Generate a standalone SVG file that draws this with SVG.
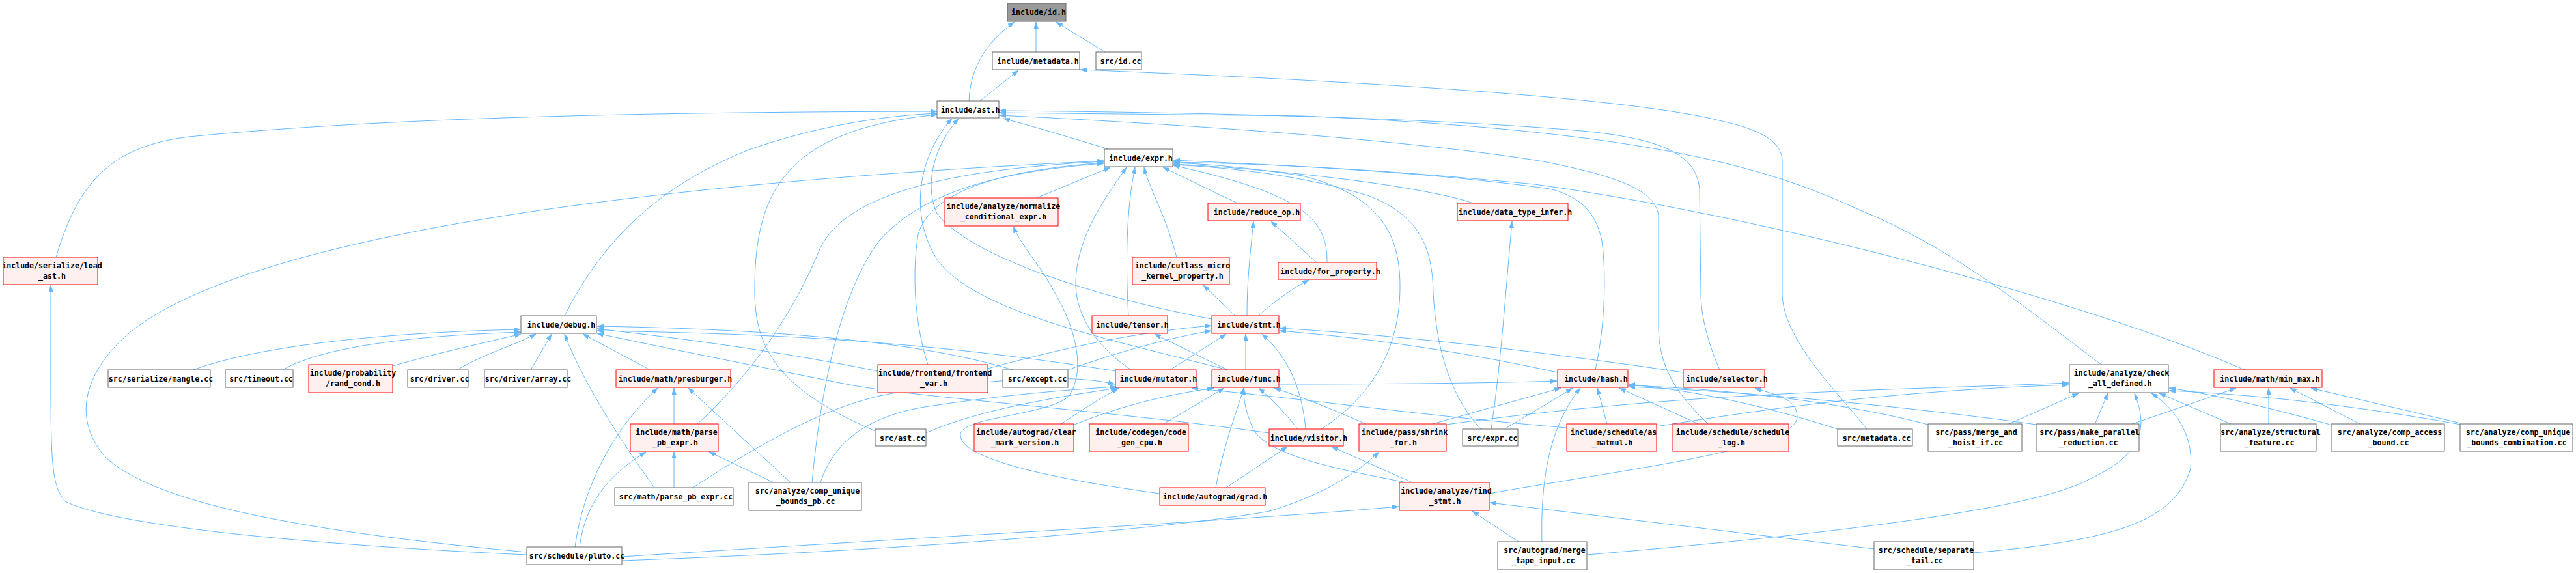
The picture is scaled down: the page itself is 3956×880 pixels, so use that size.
<svg xmlns="http://www.w3.org/2000/svg" width="3956" height="880" viewBox="0 0 3956 880">
<style>
.n rect{fill:#ffffff;stroke:#666666;stroke-width:1}
.r rect{fill:#fff0f0;stroke:#ff0000;stroke-width:1}
.g rect{fill:#999999;stroke:#666666;stroke-width:1}
text{font-family:"DejaVu Sans Mono","Liberation Mono",monospace;font-size:11.6px;font-weight:bold;fill:#000;text-anchor:middle}
#edges path{fill:none;stroke:#63b8ff;stroke-width:1;marker-end:url(#ah)}
</style>
<defs>
<marker id="ah" viewBox="0 0 10 7" refX="10" refY="3.5" markerWidth="10" markerHeight="7" orient="auto" markerUnits="userSpaceOnUse"><path d="M0,0 L10,3.5 L0,7 z" fill="#63b8ff" stroke="#63b8ff" stroke-width="0.5"/></marker>
</defs>
<rect width="3956" height="880" fill="#ffffff"/>
<g id="edges">
<path d="M1488 155 C1490 100 1520 60 1558 34"/>
<path d="M1591 80 L1591 34"/>
<path d="M1697 80 L1622 34"/>
<path d="M1505 155 L1564 108"/>
<path d="M2867 659 C2820 600 2737 520 2737 450 L2737 245 C2735 220 2710 200 2640 185 C2500 150 2100 125 1659 107"/>
<path d="M1702 229 C1640 210 1590 195 1541 182"/>
<path d="M867 485 C920 380 1000 290 1150 230 C1250 195 1350 178 1439 174"/>
<path d="M86 395 C120 280 170 225 290 210 C600 180 1000 172 1439 171"/>
<path d="M1344 662 C1200 600 1160 540 1159 450 C1158 300 1200 200 1439 176"/>
<path d="M1885 568 C1700 520 1500 480 1440 400 C1395 330 1410 240 1462 182"/>
<path d="M1861 490 C1700 460 1500 400 1440 330 C1420 290 1430 230 1472 182"/>
<path d="M2641 568 C2620 520 2612 480 2612 450 L2610 290 C2605 240 2560 215 2440 202 C2200 180 1800 172 1535 170"/>
<path d="M3227 560 C3120 480 3000 380 2850 320 C2700 250 2500 200 2000 178 L1535 173"/>
<path d="M2623 651 C2570 600 2547 560 2547 500 L2547 330 C2540 290 2480 270 2370 248 C2200 220 1900 195 1535 177"/>
<path d="M809 848 C450 815 230 770 160 700 C110 640 130 570 200 510 C350 390 800 290 1695 247"/>
<path d="M809 852 C500 838 180 810 100 770 C75 740 78 700 78 438"/>
<path d="M1592 304 L1705 257"/>
<path d="M1900 312 L1786 257"/>
<path d="M1807 395 C1790 330 1765 290 1757 257"/>
<path d="M1733 485 C1728 400 1730 320 1743 257"/>
<path d="M1737 568 C1680 530 1650 480 1652 430 C1655 360 1700 300 1730 257"/>
<path d="M1425 560 C1405 500 1400 420 1410 360 C1430 290 1550 260 1695 250"/>
<path d="M1070 652 C1150 580 1220 480 1260 380 C1300 300 1450 260 1695 248"/>
<path d="M1247 741 C1260 600 1290 450 1350 370 C1420 290 1550 262 1695 251"/>
<path d="M2450 568 C2465 500 2467 420 2460 370 C2450 320 2420 300 2380 290 C2200 265 2000 255 1802 246"/>
<path d="M3447 568 C3200 460 2700 330 2357 283 C2100 258 1950 252 1802 249"/>
<path d="M2262 312 C2200 290 2000 262 1802 252"/>
<path d="M2038 403 C2038 340 2010 300 1802 254"/>
<path d="M2029 659 C2120 600 2150 520 2150 440 C2150 360 2120 300 2000 270 C1900 255 1850 252 1802 250"/>
<path d="M2274 659 C2220 600 2205 520 2201 450 C2200 380 2180 330 2100 300 C2000 270 1900 258 1802 253"/>
<path d="M2290 659 C2305 560 2312 450 2322 340"/>
<path d="M2312 658 C2350 635 2385 615 2415 596"/>
<path d="M1915 485 C1915 430 1920 390 1925 340"/>
<path d="M1897 485 L1848 438"/>
<path d="M1933 485 C1960 460 1990 440 2010 430"/>
<path d="M2022 403 L1952 340"/>
<path d="M297 568 C400 530 600 510 799 506"/>
<path d="M434 568 C500 530 650 515 800 510"/>
<path d="M603 562 C680 540 750 525 800 513"/>
<path d="M702 568 C740 545 790 530 823 513"/>
<path d="M815 568 L847 513"/>
<path d="M998 568 L895 513"/>
<path d="M1005 749 C970 700 900 600 867 513"/>
<path d="M1348 570 C1200 540 1050 520 917 505"/>
<path d="M1555 568 C1400 520 1150 505 917 501"/>
<path d="M1714 570 C1400 520 1150 512 917 508"/>
<path d="M1949 665 C1700 630 1400 610 1300 590 C1150 560 1000 530 917 512"/>
<path d="M883 840 C895 750 940 660 1010 596"/>
<path d="M1035 651 L1035 596"/>
<path d="M1214 741 L1057 596"/>
<path d="M890 840 C900 760 950 720 992 694"/>
<path d="M1035 749 L1035 694"/>
<path d="M1188 741 L1089 694"/>
<path d="M1064 749 C1200 660 1300 610 1400 600 C1550 580 1650 575 1712 590"/>
<path d="M1260 741 C1280 680 1330 640 1420 625 C1550 605 1650 598 1714 594"/>
<path d="M1422 665 C1500 630 1620 610 1716 596"/>
<path d="M1630 651 C1660 630 1690 612 1718 596"/>
<path d="M1650 652 C1730 620 1800 605 1864 596"/>
<path d="M1787 651 L1880 596"/>
<path d="M1867 749 C1880 680 1900 630 1910 596"/>
<path d="M1883 749 L1977 686"/>
<path d="M1781 758 C1650 740 1480 710 1475 670 C1470 640 1600 640 1640 610 C1670 570 1650 500 1620 450 C1600 410 1570 380 1556 348"/>
<path d="M2005 659 C2000 600 1980 550 1938 513"/>
<path d="M1993 659 C1970 630 1950 610 1933 596"/>
<path d="M1797 568 L1883 513"/>
<path d="M1913 568 L1913 513"/>
<path d="M1885 568 L1773 513"/>
<path d="M1517 566 C1650 530 1750 510 1860 500"/>
<path d="M1640 568 C1720 540 1790 520 1860 508"/>
<path d="M2392 572 C2200 530 2050 515 1965 508"/>
<path d="M2585 572 C2300 530 2100 512 1965 504"/>
<path d="M1964 590 C2150 590 2300 588 2391 585"/>
<path d="M2097 651 C2050 630 2000 610 1957 596"/>
<path d="M2160 741 C2050 720 1950 700 1925 660 C1912 630 1910 615 1910 596"/>
<path d="M2169 741 L2045 686"/>
<path d="M2287 758 C2500 720 2760 690 2760 640 C2760 610 2720 605 2695 596"/>
<path d="M955 855 C1500 820 1900 800 2148 778"/>
<path d="M955 861 C1400 845 1800 812 1950 785 C2030 760 2080 730 2118 694"/>
<path d="M2332 832 L2261 785"/>
<path d="M2878 843 L2288 772"/>
<path d="M2368 832 C2366 750 2375 660 2427 596"/>
<path d="M2437 852 C2700 830 3100 790 3200 740 C3290 700 3300 660 3278 604"/>
<path d="M3031 849 C3250 830 3340 800 3364 720 C3370 660 3330 620 3304 604"/>
<path d="M2200 651 L2397 596"/>
<path d="M2221 652 C2600 600 2900 600 3177 588"/>
<path d="M2468 651 L2453 596"/>
<path d="M2544 655 C2700 630 2900 600 3177 591"/>
<path d="M2406 657 C2200 640 2000 612 1830 596"/>
<path d="M2608 651 L2487 596"/>
<path d="M2822 659 C2700 620 2600 600 2501 590"/>
<path d="M2961 652 C2800 610 2600 595 2501 592"/>
<path d="M3127 652 C2900 620 2650 600 2501 594"/>
<path d="M3083 652 L3192 604"/>
<path d="M3217 652 L3237 604"/>
<path d="M3428 652 L3316 604"/>
<path d="M3578 652 C3500 630 3400 605 3331 596"/>
<path d="M3779 652 C3600 620 3450 605 3331 600"/>
<path d="M3272 652 L3434 596"/>
<path d="M3484 651 L3484 596"/>
<path d="M3626 652 L3517 596"/>
<path d="M3779 650 L3549 596"/>
</g>
<g id="n_id" class="g"><rect x="1547" y="5" width="90" height="28"/><text x="1595" y="23">include/id.h</text></g>
<g id="n_metadata" class="n"><rect x="1524" y="80" width="134" height="27"/><text x="1594" y="98">include/metadata.h</text></g>
<g id="n_idcc" class="n"><rect x="1683" y="80" width="70" height="27"/><text x="1721" y="98">src/id.cc</text></g>
<g id="n_ast" class="n"><rect x="1439" y="155" width="95" height="26"/><text x="1490" y="173">include/ast.h</text></g>
<g id="n_expr" class="n"><rect x="1696" y="229" width="105" height="27"/><text x="1752" y="247">include/expr.h</text></g>
<g id="n_loadast" class="r"><rect x="5" y="395" width="145" height="42"/><text x="80" y="412">include/serialize/load</text><text x="80" y="428">_ast.h</text></g>
<g id="n_normalize" class="r"><rect x="1451" y="304" width="174" height="43"/><text x="1541" y="321">include/analyze/normalize</text><text x="1541" y="337">_conditional_expr.h</text></g>
<g id="n_reduce" class="r"><rect x="1855" y="312" width="142" height="27"/><text x="1930" y="330">include/reduce_op.h</text></g>
<g id="n_dtinfer" class="r"><rect x="2238" y="312" width="170" height="27"/><text x="2327" y="330">include/data_type_infer.h</text></g>
<g id="n_cutlass" class="r"><rect x="1739" y="395" width="149" height="42"/><text x="1816" y="412">include/cutlass_micro</text><text x="1816" y="428">_kernel_property.h</text></g>
<g id="n_forprop" class="r"><rect x="1963" y="403" width="151" height="26"/><text x="2043" y="421">include/for_property.h</text></g>
<g id="n_debug" class="n"><rect x="800" y="485" width="116" height="27"/><text x="862" y="503">include/debug.h</text></g>
<g id="n_tensor" class="r"><rect x="1677" y="485" width="116" height="27"/><text x="1739" y="503">include/tensor.h</text></g>
<g id="n_stmt" class="r"><rect x="1861" y="485" width="103" height="27"/><text x="1918" y="503">include/stmt.h</text></g>
<g id="n_mangle" class="n"><rect x="166" y="568" width="157" height="27"/><text x="247" y="586">src/serialize/mangle.cc</text></g>
<g id="n_timeout" class="n"><rect x="346" y="568" width="104" height="27"/><text x="401" y="586">src/timeout.cc</text></g>
<g id="n_randcond" class="r"><rect x="474" y="560" width="129" height="43"/><text x="542" y="577">include/probability</text><text x="542" y="593">/rand_cond.h</text></g>
<g id="n_driver" class="n"><rect x="626" y="568" width="93" height="27"/><text x="675" y="586">src/driver.cc</text></g>
<g id="n_array" class="n"><rect x="744" y="568" width="127" height="27"/><text x="811" y="586">src/driver/array.cc</text></g>
<g id="n_presburger" class="r"><rect x="946" y="568" width="176" height="27"/><text x="1037" y="586">include/math/presburger.h</text></g>
<g id="n_frontend" class="r"><rect x="1348" y="560" width="169" height="43"/><text x="1436" y="577">include/frontend/frontend</text><text x="1434" y="593">_var.h</text></g>
<g id="n_except" class="n"><rect x="1540" y="568" width="100" height="27"/><text x="1593" y="586">src/except.cc</text></g>
<g id="n_mutator" class="r"><rect x="1713" y="568" width="124" height="27"/><text x="1779" y="586">include/mutator.h</text></g>
<g id="n_func" class="r"><rect x="1861" y="568" width="103" height="27"/><text x="1918" y="586">include/func.h</text></g>
<g id="n_hash" class="r"><rect x="2392" y="568" width="108" height="27"/><text x="2451" y="586">include/hash.h</text></g>
<g id="n_selector" class="r"><rect x="2585" y="568" width="125" height="27"/><text x="2652" y="586">include/selector.h</text></g>
<g id="n_checkall" class="n"><rect x="3178" y="560" width="152" height="43"/><text x="3258" y="577">include/analyze/check</text><text x="3256" y="593">_all_defined.h</text></g>
<g id="n_minmax" class="r"><rect x="3400" y="568" width="166" height="27"/><text x="3486" y="586">include/math/min_max.h</text></g>
<g id="n_parsepbh" class="r"><rect x="968" y="651" width="135" height="42"/><text x="1039" y="668">include/math/parse</text><text x="1037" y="684">_pb_expr.h</text></g>
<g id="n_srcast" class="n"><rect x="1344" y="659" width="78" height="26"/><text x="1386" y="677">src/ast.cc</text></g>
<g id="n_clearmark" class="r"><rect x="1496" y="651" width="153" height="42"/><text x="1576" y="668">include/autograd/clear</text><text x="1574" y="684">_mark_version.h</text></g>
<g id="n_codegen" class="r"><rect x="1673" y="651" width="152" height="42"/><text x="1752" y="668">include/codegen/code</text><text x="1750" y="684">_gen_cpu.h</text></g>
<g id="n_visitor" class="r"><rect x="1949" y="659" width="114" height="26"/><text x="2010" y="677">include/visitor.h</text></g>
<g id="n_shrink" class="r"><rect x="2087" y="651" width="134" height="42"/><text x="2157" y="668">include/pass/shrink</text><text x="2155" y="684">_for.h</text></g>
<g id="n_exprcc" class="n"><rect x="2246" y="659" width="85" height="26"/><text x="2292" y="677">src/expr.cc</text></g>
<g id="n_asmatmul" class="r"><rect x="2406" y="651" width="138" height="42"/><text x="2478" y="668">include/schedule/as</text><text x="2476" y="684">_matmul.h</text></g>
<g id="n_schedlog" class="r"><rect x="2569" y="651" width="178" height="42"/><text x="2661" y="668">include/schedule/schedule</text><text x="2659" y="684">_log.h</text></g>
<g id="n_metadatacc" class="n"><rect x="2822" y="659" width="115" height="26"/><text x="2882" y="677">src/metadata.cc</text></g>
<g id="n_mergehoist" class="n"><rect x="2961" y="651" width="144" height="42"/><text x="3035" y="668">src/pass/merge_and</text><text x="3034" y="684">_hoist_if.cc</text></g>
<g id="n_makepar" class="n"><rect x="3127" y="651" width="158" height="42"/><text x="3209" y="668">src/pass/make_parallel</text><text x="3207" y="684">_reduction.cc</text></g>
<g id="n_structural" class="n"><rect x="3410" y="651" width="147" height="42"/><text x="3487" y="668">src/analyze/structural</text><text x="3485" y="684">_feature.cc</text></g>
<g id="n_compaccess" class="n"><rect x="3580" y="651" width="174" height="42"/><text x="3670" y="668">src/analyze/comp_access</text><text x="3668" y="684">_bound.cc</text></g>
<g id="n_compuniqcomb" class="n"><rect x="3778" y="651" width="173" height="42"/><text x="3867" y="668">src/analyze/comp_unique</text><text x="3865" y="684">_bounds_combination.cc</text></g>
<g id="n_parsepbcc" class="n"><rect x="944" y="749" width="182" height="27"/><text x="1038" y="767">src/math/parse_pb_expr.cc</text></g>
<g id="n_compuniqpb" class="n"><rect x="1150" y="741" width="173" height="43"/><text x="1240" y="758">src/analyze/comp_unique</text><text x="1237" y="774">_bounds_pb.cc</text></g>
<g id="n_grad" class="r"><rect x="1781" y="749" width="162" height="27"/><text x="1866" y="767">include/autograd/grad.h</text></g>
<g id="n_findstmt" class="r"><rect x="2149" y="741" width="138" height="43"/><text x="2221" y="758">include/analyze/find</text><text x="2219" y="774">_stmt.h</text></g>
<g id="n_pluto" class="n"><rect x="809" y="840" width="146" height="27"/><text x="886" y="858">src/schedule/pluto.cc</text></g>
<g id="n_mergetape" class="n"><rect x="2300" y="832" width="137" height="43"/><text x="2372" y="849">src/autograd/merge</text><text x="2370" y="865">_tape_input.cc</text></g>
<g id="n_septail" class="n"><rect x="2878" y="832" width="153" height="43"/><text x="2958" y="849">src/schedule/separate</text><text x="2956" y="865">_tail.cc</text></g>
</svg>
